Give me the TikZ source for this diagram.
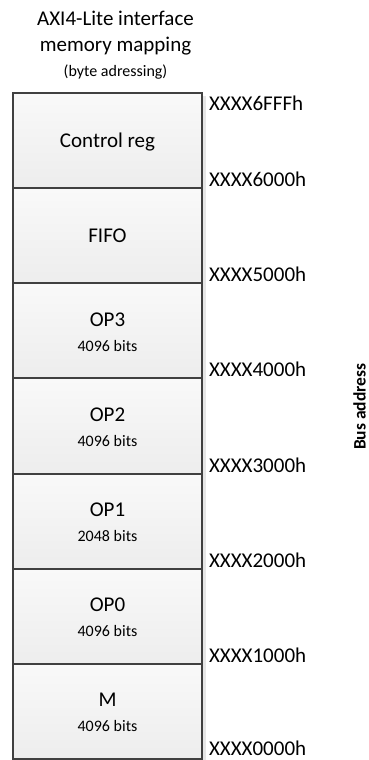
\documentclass[tikz,border=0pt]{standalone}
\usepackage{fontspec}
\setmainfont{Carlito}
\definecolor{edgecol}{HTML}{404040}
\definecolor{filltop}{HTML}{F9F9F9}
\definecolor{fillbot}{HTML}{EDEDED}
\definecolor{shadcol}{HTML}{E6E6E6}
\tikzset{
  sect/.style={draw=edgecol, line width=2pt, top color=filltop, bottom color=fillbot,
    minimum width=189pt, minimum height=95.14pt, inner sep=0pt, outer sep=0pt},
  shadowbox/.style={fill=shadcol, draw=none, minimum width=189pt, minimum height=95.14pt, inner sep=0pt},
  bigtxt/.style={font=\fontsize{21}{25}\selectfont, inner sep=0pt, anchor=base},
  smalltxt/.style={font=\fontsize{16}{19}\selectfont, inner sep=0pt, anchor=base},
  addr/.style={font=\fontsize{21}{25}\selectfont, inner sep=0pt, anchor=base west},
  axis/.style={font=\fontsize{17.5}{21}\selectfont\bfseries, inner sep=0pt, anchor=base, rotate=90}
}
\begin{document}
\begin{tikzpicture}[x=1pt,y=1pt]
\useasboundingbox (0,0) rectangle (369,-760);
% title
\node[bigtxt] (t1) at (115.5,-26) {AXI4-Lite interface};
\node[bigtxt] (t2) at (115.5,-51.7) {memory mapping};
\node[smalltxt] (t3) at (115.5,-76) {(byte adressing)};
% shadows
\foreach \c/\n in {140.57/a,235.71/b,330.86/c,426.0/d,521.14/e,616.29/f,711.43/g}{
  \node[shadowbox] (sh\n) at (111.5,-\c-3) {};
}
% sections
\node[sect] (ctrl) at (107.5,-140.57) {};
\node[sect] (fifo) at (107.5,-235.71) {};
\node[sect] (op3) at (107.5,-330.86) {};
\node[sect] (op2) at (107.5,-426.0) {};
\node[sect] (op1) at (107.5,-521.14) {};
\node[sect] (op0) at (107.5,-616.29) {};
\node[sect] (m) at (107.5,-711.43) {};
% section texts
\node[bigtxt] (ctrlt) at (107.5,-147.4) {Control reg};
\node[bigtxt] (fifot) at (107.5,-242.5) {FIFO};
\node[bigtxt] (op3t) at (107.5,-326.1) {OP3};
\node[smalltxt] (op3b) at (107.5,-351.0) {4096 bits};
\node[bigtxt] (op2t) at (107.5,-421.2) {OP2};
\node[smalltxt] (op2b) at (107.5,-446.1) {4096 bits};
\node[bigtxt] (op1t) at (107.5,-516.3) {OP1};
\node[smalltxt] (op1b) at (107.5,-541.2) {2048 bits};
\node[bigtxt] (op0t) at (107.5,-611.5) {OP0};
\node[smalltxt] (op0b) at (107.5,-636.4) {4096 bits};
\node[bigtxt] (mt) at (107.5,-706.6) {M};
\node[smalltxt] (mb) at (107.5,-731.5) {4096 bits};
% addresses
\node[addr] (a7) at (208.8,-110.2) {XXXX6FFFh};
\node[addr] (a6) at (208.8,-186.6) {XXXX6000h};
\node[addr] (a5) at (208.8,-281.8) {XXXX5000h};
\node[addr] (a4) at (208.8,-376.9) {XXXX4000h};
\node[addr] (a3) at (208.8,-472.1) {XXXX3000h};
\node[addr] (a2) at (208.8,-567.2) {XXXX2000h};
\node[addr] (a1) at (208.8,-662.4) {XXXX1000h};
\node[addr] (a0) at (208.8,-755.6) {XXXX0000h};
% axis label
\node[axis] (bus) at (365.5,-406.7) {Bus address};
\end{tikzpicture}
\end{document}
